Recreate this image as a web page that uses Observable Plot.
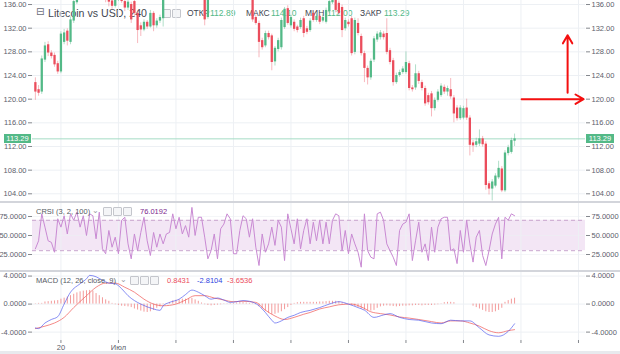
<!DOCTYPE html>
<html><head><meta charset="utf-8">
<script src="https://cdn.jsdelivr.net/npm/d3@7"></script>
<script src="https://cdn.jsdelivr.net/npm/@observablehq/plot@0.6"></script>
<style>
html,body{margin:0;padding:0;background:#fff;}
#c{position:relative;width:620px;height:354px;overflow:hidden;background:#fff;font-family:"Liberation Sans",Arial,sans-serif;}
#c svg{position:absolute;left:0;}
.lg{position:absolute;white-space:nowrap;line-height:1;}
.bx{position:absolute;width:7px;height:7px;border:1px solid #c4c6cc;background:#f4f5f7;border-radius:1px;}
</style></head><body><div id="c"></div>
<script>
// ---------- DATA ----------
const opens = [122.8,121.6,121.2,126.6,129.2,127.8,127.4,126.0,124.6,129.6,
131.5,129.6,133.2,136.3,138.5,137.6,139.2,138.0,139.5,138.4,
137.5,138.8,137.8,137.2,136.6,135.7,136.8,137.6,136.5,135.4,
136.0,136.5,134.5,132.4,131.7,133.0,132.2,134.5,132.4,133.2,
133.6,137.4,138.6,139.8,139.0,140.5,141.2,140.3,141.0,140.0,
139.2,139.8,138.5,137.8,133.8,137.5,138.6,139.4,138.7,139.8,
140.6,139.9,140.4,139.6,138.8,139.3,138.2,137.4,137.2,133.8,
132.8,129.9,129.0,131.1,130.7,126.3,128.4,128.7,132.1,135.3,
132.4,133.0,132.2,132.1,133.6,131.9,131.6,134.5,133.3,134.0,
133.2,133.0,134.8,136.3,138.0,136.2,135.5,131.9,133.0,133.6,
127.9,132.8,130.6,127.7,125.2,123.6,126.6,130.0,130.4,131.0,
131.1,128.2,126.5,122.8,124.0,124.5,124.5,126.0,121.9,121.9,
124.3,122.8,121.8,120.6,120.9,118.4,119.8,120.6,122.0,121.2,
121.6,120.2,118.5,116.7,116.8,118.5,116.8,112.6,112.2,112.4,
113.3,112.4,105.7,104.8,105.3,106.7,108.2,104.5,110.8,111.0,
112.89];
const highs = [123.6,122.3,127.3,129.6,129.7,128.2,127.8,126.4,131.4,131.8,
131.9,133.9,137.2,138.9,139.0,139.6,139.6,139.9,139.8,138.7,
139.1,139.1,138.1,137.5,137.0,137.0,137.9,137.9,136.8,136.7,
136.4,137.3,135.0,132.9,133.4,133.3,135.0,134.8,133.6,134.2,
138.0,138.9,140.1,140.2,140.8,141.6,141.5,141.3,141.3,140.3,
140.1,140.1,138.8,138.2,137.8,138.9,139.7,139.7,140.1,140.9,
140.9,140.7,140.7,139.9,139.6,139.6,138.5,138.3,137.6,134.2,
133.2,130.3,131.5,131.5,131.0,128.9,130.3,133.7,135.5,135.8,
134.2,133.4,132.5,133.7,134.0,132.3,133.6,134.9,134.4,134.3,
134.2,135.4,136.9,138.4,138.4,136.6,135.9,133.7,133.4,134.0,
133.7,133.6,131.0,128.1,125.6,126.8,130.6,131.4,131.6,131.4,
133.6,128.6,126.9,124.4,124.9,125.5,128.0,126.4,122.3,125.8,
124.7,123.2,122.2,121.0,121.3,120.2,121.6,122.6,122.4,122.2,
123.5,120.6,118.9,118.9,118.8,120.0,117.2,113.0,113.4,114.8,
113.7,112.8,106.1,106.4,107.4,109.5,108.6,111.3,112.2,113.4,
114.10];
const lows = [119.8,120.5,120.8,126.2,127.2,126.8,125.4,124.2,124.3,129.2,
129.0,129.2,132.8,136.0,137.2,137.3,137.7,137.7,138.1,137.2,
137.2,137.5,136.3,135.6,135.2,135.4,136.5,136.2,134.8,135.0,
132.8,134.0,129.4,130.6,131.4,131.8,132.0,131.4,132.0,132.8,
132.2,137.0,138.3,138.7,138.8,140.2,140.0,140.0,139.7,138.9,
138.9,138.2,137.4,132.4,133.5,137.2,138.3,138.4,138.4,139.5,
139.6,139.6,139.3,138.5,138.5,137.9,136.8,137.1,133.0,132.5,
127.0,128.3,128.7,130.0,124.8,125.6,128.0,128.3,131.8,132.5,
132.0,131.4,131.2,131.8,130.4,130.9,131.3,133.0,133.0,132.6,
132.9,132.7,134.5,136.0,134.6,134.1,130.4,131.5,132.2,127.3,
127.5,130.7,127.3,122.8,122.4,123.2,126.2,129.6,130.0,130.0,
127.5,125.8,122.2,122.5,123.7,124.2,124.2,121.4,121.2,121.5,
122.5,121.4,118.8,119.0,117.0,118.0,119.5,120.3,120.8,120.5,
120.0,116.0,116.3,116.4,116.5,116.4,110.4,111.0,111.8,112.0,
111.9,104.6,103.8,102.8,105.0,106.4,104.2,104.2,110.4,110.7,
112.00];
const closes = [121.2,121.0,126.8,129.0,127.8,127.2,125.8,124.6,131.0,131.2,
129.8,133.4,136.5,138.5,137.6,139.2,138.0,139.5,138.4,137.5,
138.8,137.8,137.0,136.4,135.7,136.8,137.6,136.5,135.4,136.4,
133.4,134.5,131.6,131.7,133.0,132.2,134.5,132.4,133.2,133.8,
137.4,138.6,139.8,139.0,140.5,141.2,140.3,141.0,140.0,139.2,
139.8,138.5,137.8,133.4,137.5,138.6,139.4,138.7,139.8,140.6,
139.9,140.4,139.6,138.8,139.3,138.2,137.4,138.0,133.4,132.8,
129.6,128.7,131.1,130.4,126.2,128.6,129.9,133.3,135.2,132.8,
133.8,131.8,131.6,133.3,131.1,131.3,133.2,133.3,134.0,133.0,
133.8,135.0,136.5,138.0,135.0,134.5,131.6,133.3,132.6,127.7,
133.3,131.1,127.7,125.2,123.6,126.4,130.2,131.0,131.2,130.4,
127.9,126.2,122.8,124.0,124.5,125.1,126.2,121.8,121.6,124.3,
123.0,121.8,119.2,119.4,118.4,119.8,121.2,122.2,121.2,121.8,
120.4,117.5,116.7,118.5,118.4,116.8,112.2,112.1,112.8,113.3,
112.3,105.4,104.8,106.0,107.0,108.3,104.5,110.9,111.8,113.0,
113.29];

const crsi = [32.5,43,78.5,61,43,41,28,72,61,76,52,78.5,70,80.7,61,76,50,78.5,76,45.6,
80.7,32.5,26,56.6,34.6,47.8,26,70,74,39,19.3,52,30,54,74,43,23.7,54,34.6,52,
39,52,54,78.5,58.8,74,52,63,47.8,87,50,74,74,47.8,19.3,30,52,19.3,58.8,65,
78.5,72,26,26,56.6,76,72,47.8,72,34.6,10.5,52,28,39,61,37,70,61,17,78.5,
58.8,39,72,32.5,56.6,72,39,67.5,
43,70,39,67.5,39,70,78.5,76,30,56.6,26,52,39,28,8.3,78.5,30,21.5,19.3,78.5,
80.7,70,39,30,21.5,10.5,56.6,65,67.5,78.5,17,43,67.5,28,39,17,61,28,61,72,
74,74,30,32.5,13,56.6,28,70,39,15,47.8,56.6,23.7,10.5,30,52,65,74,19.3,74,
70,78.5,76.02];
const crsiBand = [30, 70];

const macdIdx = [0,1,3,5,7,9,11,14,16,17,19,21,23,25,27,29,31,33,35,37,39,40,42,45,47,49,51,53,55,57,59,61,63,65,67,70,72,74,75,77,79,81,83,86,89,92,95,98,101,103,106,109,111,114,117,120,124,127,130,133,136,139,142,145,148,150];
const macdVal = [-3.4,-3.5,-2.7,-2.2,-1.8,0,1.7,2.9,3.6,4.1,3.9,3.4,3.0,2.9,2.2,1.2,0.5,0,-0.4,-0.7,-0.9,-0.24,0.24,0.7,1.36,2.0,1.7,1.2,0.7,0.87,0.58,0.24,0.34,0.5,0.4,-0.24,-1.2,-2.3,-2.7,-2.4,-1.9,-1.6,-1.2,-0.9,-0.5,0,0.34,0,-0.5,-0.87,-1.9,-1.55,-1.36,-1.9,-2.2,-2.3,-2.7,-2.8,-2.3,-2.4,-2.4,-3.4,-4.4,-4.6,-3.9,-2.81];
const signalIdx = [0,3,6,9,12,16,19,22,25,28,31,34,37,40,44,47,50,53,56,59,62,65,69,72,75,78,81,84,86,89,92,95,99,102,105,108,111,114,117,120,124,127,130,133,136,139,142,145,148,150];
const signalVal = [-3.5,-3.15,-2.7,-1.9,-0.5,1.2,2.4,3.0,3.0,2.4,1.7,0.7,0,-0.24,0,0.58,1.2,1.2,0.87,0.58,0.34,0.4,0.24,-0.87,-1.7,-2.2,-1.9,-1.45,-1.2,-0.7,-0.4,-0.1,0,-0.4,-1.1,-1.36,-1.55,-1.84,-2.0,-2.2,-2.5,-2.7,-2.4,-2.4,-2.7,-3.15,-3.8,-4.1,-3.8,-3.65];
const hist = [0.05,0.1,0.1,0.3,0.35,0.4,0.45,0.5,0.7,0.85,1.0,1.2,1.4,1.6,1.75,1.85,1.9,1.95,1.85,1.5,
1.2,0.9,0.6,0.4,0.1,-0.1,-0.2,-0.3,-0.35,-0.4,-0.5,-0.7,-0.85,-1.0,-1.15,-1.2,-1.1,-0.9,-0.6,-0.4,
-0.1,0.05,0.2,0.45,0.55,0.6,0.7,0.7,0.75,0.8,0.6,0.4,0.15,-0.1,-0.2,-0.25,-0.2,-0.15,-0.1,-0.05,
0.05,0.1,0.1,0.15,0.2,0.2,0.15,0.1,0.05,-0.1,-0.4,-0.7,-1.0,-1.3,-1.5,-1.45,-1.3,-1.1,-0.8,-0.5,
-0.2,0.1,0.2,0.25,0.25,0.25,0.25,0.25,0.25,0.3,0.3,0.35,0.4,0.4,0.4,0.35,0.2,0.1,0,-0.2,
-0.35,-0.5,-0.7,-0.85,-1.0,-1.0,-0.9,-0.6,-0.4,-0.3,-0.25,-0.3,-0.35,-0.4,-0.35,-0.3,-0.3,-0.25,-0.25,-0.2,
-0.2,-0.25,-0.2,-0.2,-0.2,-0.15,-0.1,-0.05,0.2,0.25,0.25,0.2,0,0,0,0,0,-0.3,-0.5,-0.7,
-0.9,-1.1,-1.2,-1.2,-1.1,-0.9,-0.6,0.25,0.5,0.7,0.84];

const priceTicks = [104,108,112,116,120,124,128,132,136];
const crsiTicks = [25,50,75];
const macdTicks = [-4,0,4];
const timeTicks = [8,26,44,62,80,98,116,134,152,170];
const timeTickLabels = ["20","Июл","","","","","","","",""];
const lastClose = 113.29;
const legendOHLC = [["ОТКР","112.89"],["МАКС","114.10"],["МИН","112.00"],["ЗАКР","113.29"]];
const crsiLegend = "76.0192";
const macdLegend = ["0.8431","-2.8104","-3.6536"];
// annotation arrows drawn on the screenshot (bar index, price)
const arrowNotes = [{x1:152.2,y1:120,x2:171.6,y2:120},{x1:166.6,y1:121.1,x2:166.6,y2:130.8}];

// ---------- CHART ----------
const UP = "#53b987", DN = "#eb4d5c";
const BLUE = "#4a55ee", RED = "#f0625f";
const xDomain = [-0.9, 172.2];
const candles = opens.map((o,i)=>({i,o,h:highs[i],l:lows[i],c:closes[i]}));
const ups = candles.filter(d=>d.c>=d.o), dns = candles.filter(d=>d.c<d.o);
const c = document.getElementById("c");
const style = {fontFamily:'"Liberation Sans", Arial, sans-serif', fontSize:"7.5px", color:"#5d606b", background:"transparent", overflow:"visible"};
const gridC = "#edf0f4";
function yAxes(ticks, fmt){
  const o = {ticks, tickSize:4, tickPadding:2, tickFormat:fmt, label:null, line:true, stroke:"#85888e", color:"#5d606b"};
  return [Plot.axisY({...o, anchor:"left"}), Plot.axisY({...o, anchor:"right"})];
}
function place(svg, top){ svg.style.position="absolute"; svg.style.top=top+"px"; svg.style.left="0px"; c.appendChild(svg); }
function div(cls, css, text){ const d=document.createElement("div"); d.className=cls; Object.assign(d.style, css); if(text!=null) d.textContent=text; c.appendChild(d); return d; }

// legends under the price panel (candles drawn above them)
const LC = "#434651";
div("lg",{left:"36px",top:"7px",fontSize:"10px",color:"#6a6d78",fontFamily:"DejaVu Sans"},"⊟");
div("lg",{left:"48px",top:"8px",fontSize:"10.6px",color:LC},"Litecoin vs USD, 240");
div("bx",{left:"162px",top:"9px"}); div("bx",{left:"172px",top:"9px"});
const ohlcX = [[187,210],[246,271],[305,327],[360,384]];
legendOHLC.forEach(([k,v],j)=>{
  div("lg",{left:ohlcX[j][0]+"px",top:"9px",fontSize:"8.5px",color:LC},k);
  div("lg",{left:ohlcX[j][1]+"px",top:"9px",fontSize:"8.5px",color:UP},v);
});

// price panel
const p1 = Plot.plot({
  width:620, height:201, marginLeft:32, marginRight:35, marginTop:0, marginBottom:0, style,
  x:{type:"linear", domain:xDomain, axis:null},
  y:{domain:[102.70,136.68]},
  marks:[
    Plot.ruleY(priceTicks,{stroke:gridC}),
    Plot.ruleX(timeTicks,{stroke:gridC}),
    Plot.ruleY([lastClose],{stroke:"#a6dcc6"}),
    Plot.ruleX(ups,{x:"i",y1:"l",y2:"h",stroke:UP,strokeOpacity:0.45,clip:true}),
    Plot.ruleX(dns,{x:"i",y1:"l",y2:"h",stroke:DN,strokeOpacity:0.4,clip:true}),
    Plot.ruleX(ups,{x:"i",y1:"o",y2:"c",stroke:UP,strokeWidth:2.3,clip:true}),
    Plot.ruleX(dns,{x:"i",y1:"o",y2:"c",stroke:DN,strokeWidth:2.3,clip:true}),
    Plot.arrow(arrowNotes,{x1:"x1",y1:"y1",x2:"x2",y2:"y2",stroke:"#f40f0f",strokeWidth:2,headLength:7}),
    ...yAxes(priceTicks, d=>d.toFixed(2))
  ]
});
place(p1, 0);
const yl = p1.scale("y").apply(lastClose);
div("lg",{left:"4px",top:(yl-4.5)+"px",width:"27px",height:"9px",background:UP,color:"#fff",fontSize:"7.5px",textAlign:"center",lineHeight:"9px"},lastClose.toFixed(2));
div("lg",{left:"586px",top:(yl-4.5)+"px",width:"28px",height:"9px",background:UP,color:"#fff",fontSize:"7.5px",textAlign:"center",lineHeight:"9px"},lastClose.toFixed(2));

// separators
div("lg",{left:"0px",top:"201px",width:"620px",height:"2px",background:"#d3d5db"});
div("lg",{left:"0px",top:"270px",width:"620px",height:"2px",background:"#d3d5db"});

// CRSI panel
const p2 = Plot.plot({
  width:620, height:67, marginLeft:32, marginRight:35, marginTop:0, marginBottom:0, style,
  x:{type:"linear", domain:xDomain, axis:null},
  y:{domain:[3.95,92.1]},
  marks:[
    Plot.rect([crsiBand],{y1:d=>d[0],y2:d=>d[1],fill:"#f3e6f5"}),
    Plot.ruleY(crsiTicks,{stroke:gridC,strokeOpacity:0.6}),
    Plot.ruleX(timeTicks,{stroke:gridC}),
    Plot.ruleY(crsiBand,{stroke:"#c8a6ce",strokeDasharray:"4,3"}),
    Plot.line(crsi,{x:(d,i)=>i,y:d=>d,stroke:"#c98ad3",strokeWidth:1,clip:true}),
    ...yAxes(crsiTicks, d=>d.toFixed(4))
  ]
});
place(p2, 203);
div("lg",{left:"36px",top:"208px",fontSize:"7.5px",color:"#555a63"},"CRSI (3, 2, 100)");
div("lg",{left:"92px",top:"207px",fontSize:"7.5px",color:"#9a9da5"},"⌄");
div("bx",{left:"103px",top:"207px"}); div("bx",{left:"113px",top:"207px"}); div("bx",{left:"123px",top:"207px"});
div("lg",{left:"140px",top:"208px",fontSize:"7.5px",color:"#7b1f8e"},crsiLegend);

// MACD panel
const lbl = new Map(timeTicks.map((t,k)=>[t,timeTickLabels[k]]));
const macdPts = macdIdx.map((x,k)=>({x,v:macdVal[k]}));
const sigPts = signalIdx.map((x,k)=>({x,v:signalVal[k]}));
const p3 = Plot.plot({
  width:620, height:82, marginLeft:32, marginRight:35, marginTop:0, marginBottom:14, style,
  x:{type:"linear", domain:xDomain},
  y:{domain:[-5.2,4.51]},
  marks:[
    Plot.ruleY(macdTicks,{stroke:gridC}),
    Plot.ruleX(timeTicks,{stroke:gridC}),
    Plot.ruleX(hist,{x:(d,i)=>i,y1:0,y2:d=>d,stroke:"#f39b9b",strokeWidth:1}),
    Plot.line(sigPts,{x:"x",y:"v",stroke:RED,strokeOpacity:0.75,strokeWidth:1,curve:"monotone-x"}),
    Plot.line(macdPts,{x:"x",y:"v",stroke:BLUE,strokeOpacity:0.65,strokeWidth:1,curve:"monotone-x"}),
    ...yAxes(macdTicks, d=>d.toFixed(4)),
    Plot.axisX({anchor:"bottom",ticks:timeTicks,tickSize:3,tickPadding:1,tickFormat:d=>lbl.get(d)??"",label:null,line:true,stroke:"#85888e",color:"#5d606b"})
  ]
});
place(p3, 272);
div("lg",{left:"36px",top:"277px",fontSize:"7.5px",color:"#555a63"},"MACD (12, 26, close, 9)");
div("lg",{left:"120px",top:"276px",fontSize:"7.5px",color:"#9a9da5"},"⌄");
div("bx",{left:"130px",top:"276px"}); div("bx",{left:"140px",top:"276px"}); div("bx",{left:"150px",top:"276px"});
const mcol = [DN,"#2f3fe0",DN]; const mx=[167,197,227];
macdLegend.forEach((v,j)=>div("lg",{left:mx[j]+"px",top:"277px",fontSize:"7.5px",color:mcol[j]},v));

// bottom strip
div("lg",{left:"0px",top:"351px",width:"620px",height:"3px",background:"#e8eaee"});
</script></body></html>
